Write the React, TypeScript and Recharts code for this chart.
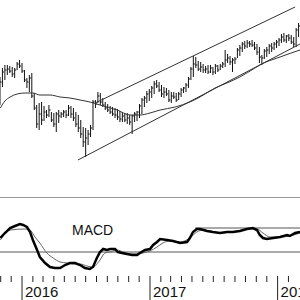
import React from 'react';
import { ComposedChart, Bar, Line, XAxis, YAxis, ReferenceLine, Customized } from 'recharts';

// x values are days counted from 2016-01-01; bars are weekly (Fridays)
const X_MIN = -63;
const X_MAX = 795;
const FIRST_BAR_DAY = -63; // 2015-10-30

const highs = [
  123, 132, 135, 135, 134, 133, 132, 138, 140, 137,
  130, 122, 125, 127, 107, 95, 97, 98, 94, 90,
  95, 88, 87, 88, 90, 88, 90, 90, 95, 94,
  92, 88, 85, 80, 73, 72, 70, 75, 100, 100,
  108, 107, 102, 98, 96, 94, 93, 92, 91, 89,
  88, 87, 87, 85, 85, 88, 89, 96, 102, 104,
  109, 111, 114, 119, 120, 118, 115, 113, 112, 110,
  108, 108, 107, 108, 112, 113, 117, 123, 133, 144,
  143, 139, 138, 136, 134, 135, 135, 133, 136, 135,
  136, 138, 150, 146, 144, 142, 143, 152, 155, 158,
  159, 160, 159, 160, 158, 156, 153, 145, 151, 153,
  156, 157, 158, 160, 162, 166, 167, 165, 166, 165,
  163, 172, 177,
];
const lows = [
  95, 113, 120, 125, 127, 123, 122, 130, 132, 127,
  118, 112, 108, 102, 90, 72, 70, 75, 79, 82,
  83, 78, 73, 68, 77, 82, 83, 82, 84, 82,
  79, 73, 68, 62, 53, 43, 55, 63, 70, 92,
  97, 95, 93, 90, 88, 86, 84, 82, 80, 78,
  78, 78, 76, 75, 66, 78, 79, 82, 86, 93,
  97, 99, 102, 106, 112, 108, 103, 102, 104, 98,
  97, 101, 98, 100, 103, 107, 108, 112, 120, 123,
  132, 129, 128, 127, 127, 126, 127, 125, 126, 128,
  130, 132, 133, 137, 135, 128, 136, 142, 144, 148,
  151, 152, 153, 153, 150, 145, 137, 135, 141, 143,
  146, 148, 150, 152, 154, 157, 158, 157, 159, 156,
  153, 153, 163,
];
const closes = [
  118, 128, 130, 131, 129, 126, 130, 136, 134, 129,
  120, 118, 122, 104, 92, 76, 86, 80, 88, 85,
  90, 80, 76, 86, 84, 86, 88, 85, 92, 86,
  82, 76, 72, 66, 58, 62, 66, 72, 98, 96,
  104, 98, 95, 92, 90, 88, 86, 85, 83, 81,
  84, 80, 82, 78, 84, 86, 88, 94, 100, 102,
  106, 108, 112, 116, 114, 110, 106, 108, 106, 100,
  104, 103, 100, 106, 110, 112, 115, 121, 131, 136,
  135, 131, 133, 130, 131, 128, 132, 128, 134, 130,
  134, 136, 140, 142, 138, 140, 141, 150, 152, 156,
  154, 157, 156, 155, 152, 148, 143, 142, 149, 150,
  154, 152, 156, 158, 160, 163, 160, 164, 162, 158,
  156, 170, 174,
];

const maDays = [-62, -49, -34, -14, 9, 31, 51, 80, 109, 137, 166, 194, 223, 272, 309, 337, 366, 395, 438, 480, 509, 552, 586, 623, 666, 680, 738, 795];
const maValues = [92, 99, 103, 106, 107, 107, 105, 105, 103, 102, 100, 98, 95, 90, 85, 85, 87, 90, 93, 98, 103, 112, 117, 123, 132, 135, 143, 150];

// channel lines: [day, price] end points
const upperChannel = [[209, 97], [781, 193]];
const lowerChannel = [[160, 40], [795, 156]];

const macdDays = [-62, -49, -34, -20, -6, 3, 14, 23, 31, 43, 51, 66, 80, 94, 109, 123, 137, 152, 166, 180, 194, 203, 214, 223, 232, 243, 252, 266, 274, 286, 300, 315, 329, 337, 352, 366, 375, 386, 395, 415, 432, 452, 472, 480, 489, 500, 509, 529, 546, 566, 586, 603, 623, 643, 660, 672, 680, 689, 700, 718, 738, 758, 766, 781, 795];
const macdValues = [14, 19, 24, 26, 28, 27, 25, 20, 12, 2, -5, -11, -15, -16, -16, -13, -11, -11, -13, -16, -17, -15, -6, 0, 3, 2, 3, 3, 0, -1, -2, -3, -3, -1, 2, 3, 7, 10, 13, 12, 11, 9, 10, 14, 20, 23, 23, 21, 20, 19, 20, 20, 21, 23, 24, 22, 17, 14, 13, 14, 15, 17, 16, 19, 20];
const signalDays = [-62, -34, 9, 23, 37, 51, 71, 89, 109, 129, 146, 166, 186, 203, 223, 237, 252, 272, 289, 309, 329, 346, 366, 386, 403, 423, 452, 480, 500, 518, 538, 566, 595, 623, 652, 672, 689, 709, 738, 766, 795];
const signalValues = [12, 22, 23, 22, 15, 9, -1, -6, -10, -11, -12, -12, -14, -15, -8, -1, 0, 2, 0, -2, -2, -1, 1, 5, 9, 11, 10, 14, 20, 22, 21, 19, 20, 21, 23, 23, 19, 15, 15, 16, 19];
const macdLevel = 24;
const macdLevelFrom = 495;

const monthTicks = [-61, -31, 0, 31, 60, 91, 121, 152, 182, 213, 244, 274, 305, 335, 366, 397, 425, 456, 486, 517, 547, 578, 609, 639, 670, 700, 731, 762];
const yearTicks = [0, 366, 731];
const yearLabels = ['2016', '2017', '2018'];

const barData = highs.map((h, i) => ({ day: FIRST_BAR_DAY + 7 * i, high: h, low: lows[i], close: closes[i] }));
const maData = maDays.map((d, i) => ({ day: d, v: maValues[i] }));
const macdData = macdDays.map((d, i) => ({ day: d, v: macdValues[i] }));
const signalData = signalDays.map((d, i) => ({ day: d, v: signalValues[i] }));

const FONT = "'Liberation Sans', Arial, sans-serif";

const OhlcShape = (props: any) => {
  const { x, y, width, height, payload } = props;
  if (x == null || y == null) return null;
  const top = Math.min(y, y + height);
  const h = Math.abs(height);
  const cx = x + width / 2;
  const range = payload.high - payload.low || 1;
  const cy = top + ((payload.high - payload.close) / range) * h;
  return (
    <g>
      <line x1={cx} x2={cx} y1={top} y2={top + h} stroke="#111" strokeWidth={1} />
      <line x1={cx} x2={cx + 1.6} y1={cy} y2={cy} stroke="#111" strokeWidth={1} />
    </g>
  );
};

const AxisTick = (props: any) => {
  const { x, y, payload } = props;
  const yi = yearTicks.indexOf(payload.value);
  if (yi >= 0) {
    return (
      <g>
        <line x1={x} x2={x} y1={y + 1} y2={y + 26} stroke="#222" strokeWidth={1} />
        <text x={x + 3} y={y + 22} fontSize={15} fontFamily={FONT} fill="#111">{yearLabels[yi]}</text>
      </g>
    );
  }
  return <line x1={x} x2={x} y1={y + 1} y2={y + 7} stroke="#222" strokeWidth={1} />;
};

const MacdLabel = () => (
  <text x={72} y={38} fontSize={14} fontFamily={FONT} fill="#111">MACD</text>
);

export default function App() {
  return (
    <div style={{ position: 'fixed', left: 0, top: 0, width: 300, height: 300, overflow: 'hidden', background: '#fff' }}>
      <div style={{ position: 'absolute', left: 0, top: 0 }}>
        <ComposedChart width={300} height={198} data={barData} margin={{ top: 0, right: 0, bottom: 0, left: 0 }}>
          <XAxis dataKey="day" type="number" domain={[X_MIN, X_MAX]} allowDataOverflow hide />
          <YAxis domain={[2, 200]} allowDataOverflow hide />
          <Bar dataKey={(d: any) => [d.low, d.high]} shape={OhlcShape} barSize={2} isAnimationActive={false} />
          <Line data={maData} dataKey="v" type="monotone" dot={false} activeDot={false} stroke="#333" strokeWidth={1} isAnimationActive={false} />
          <ReferenceLine segment={[{ x: upperChannel[0][0], y: upperChannel[0][1] }, { x: upperChannel[1][0], y: upperChannel[1][1] }]} stroke="#333" strokeWidth={1} />
          <ReferenceLine segment={[{ x: lowerChannel[0][0], y: lowerChannel[0][1] }, { x: lowerChannel[1][0], y: lowerChannel[1][1] }]} stroke="#333" strokeWidth={1} />
        </ComposedChart>
      </div>
      <div style={{ position: 'absolute', left: 0, top: 197 }}>
        <ComposedChart width={300} height={103} margin={{ top: 0, right: 0, bottom: 0, left: 0 }}>
          <XAxis dataKey="day" type="number" domain={[X_MIN, X_MAX]} allowDataOverflow ticks={monthTicks} interval={0}
            axisLine={false} tickLine={false} tickSize={0} tickMargin={0} height={25} tick={<AxisTick />} />
          <YAxis domain={[-23, 55]} allowDataOverflow hide />
          <ReferenceLine y={55} stroke="#999" strokeWidth={2} />
          <ReferenceLine y={0} stroke="#555" strokeWidth={1} />
          <ReferenceLine segment={[{ x: macdLevelFrom, y: macdLevel }, { x: X_MAX, y: macdLevel }]} stroke="#555" strokeWidth={1} />
          <Line data={signalData} dataKey="v" type="monotone" dot={false} activeDot={false} stroke="#666" strokeWidth={1} isAnimationActive={false} />
          <Line data={macdData} dataKey="v" type="linear" dot={false} activeDot={false} stroke="#000" strokeWidth={2.5} isAnimationActive={false} />
          <Customized component={MacdLabel} />
        </ComposedChart>
      </div>
    </div>
  );
}
